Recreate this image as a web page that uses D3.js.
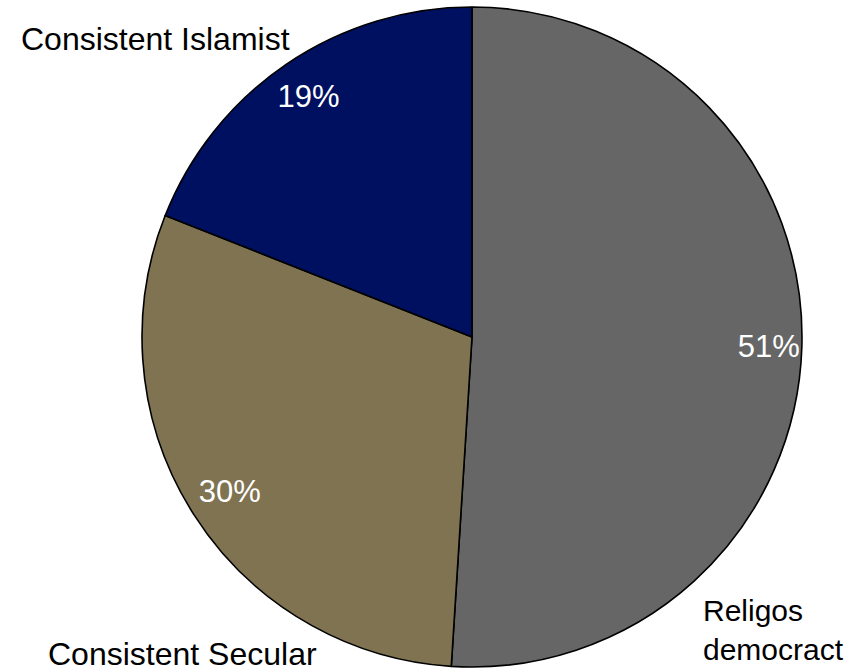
<!DOCTYPE html>
<html>
<head>
<meta charset="utf-8">
<script src="https://cdn.jsdelivr.net/npm/d3@7"></script>
<style>
  html, body { margin: 0; padding: 0; background: #fff; }
  svg { display: block; }
  text { font-family: "Liberation Sans", Arial, sans-serif; }
</style>
</head>
<body>
<svg id="chart" width="844" height="672"></svg>
<script>
// Survey groups, in clockwise order from 12 o'clock
const categories = ["Religos democract", "Consistent Secular", "Consistent Islamist"];
const shares = [51, 30, 19];
const sliceColors = ["#666666", "#7f7351", "#001060"];

const width = 844, height = 672;
const cx = 472, cy = 337, radius = 330;

// Distance of each percentage label from the pie centre
const pctLabelRadius = [297, 287, 291];

// Category label placement (start x, first baseline y, font size, line breaks)
const categoryLabelLayout = [
  { x: 703, y: 621, size: 30, lines: ["Religos", "democract"] },
  { x: 48, y: 665, size: 32, lines: ["Consistent Secular"] },
  { x: 21, y: 50, size: 32, lines: ["Consistent Islamist"] }
];
const lineHeight = 39;

const svg = d3.select("#chart");
const g = svg.append("g").attr("transform", `translate(${cx},${cy})`);

const data = categories.map((c, i) => ({ name: c, value: shares[i], color: sliceColors[i] }));

const pie = d3.pie().sort(null).value(d => d.value).startAngle(0).endAngle(2 * Math.PI);
const arcs = pie(data);

const arc = d3.arc().innerRadius(0).outerRadius(radius);

g.selectAll("path.slice")
  .data(arcs)
  .join("path")
  .attr("class", "slice")
  .attr("d", arc)
  .attr("fill", d => d.data.color)
  .attr("stroke", "#000")
  .attr("stroke-width", 1.6)
  .attr("stroke-linejoin", "round");

// Percentage labels inside slices
g.selectAll("text.pct")
  .data(arcs)
  .join("text")
  .attr("class", "pct")
  .attr("transform", (d, i) => {
    const r = pctLabelRadius[i];
    return `translate(${d3.arc().innerRadius(r).outerRadius(r).centroid(d)})`;
  })
  .attr("text-anchor", "middle")
  .attr("dy", "0.35em")
  .attr("fill", "#fff")
  .attr("font-size", 31)
  .text(d => d3.format(".0f")(d.data.value) + "%");

// Category labels outside the pie
const cat = svg.selectAll("text.cat")
  .data(data)
  .join("text")
  .attr("class", "cat")
  .attr("font-size", (d, i) => categoryLabelLayout[i].size)
  .attr("fill", "#000");

cat.each(function(d, i) {
  const lay = categoryLabelLayout[i];
  const t = d3.select(this);
  lay.lines.forEach((line, j) => {
    t.append("tspan")
      .attr("x", lay.x)
      .attr("y", lay.y + j * lineHeight)
      .text(line);
  });
});
</script>
</body>
</html>
